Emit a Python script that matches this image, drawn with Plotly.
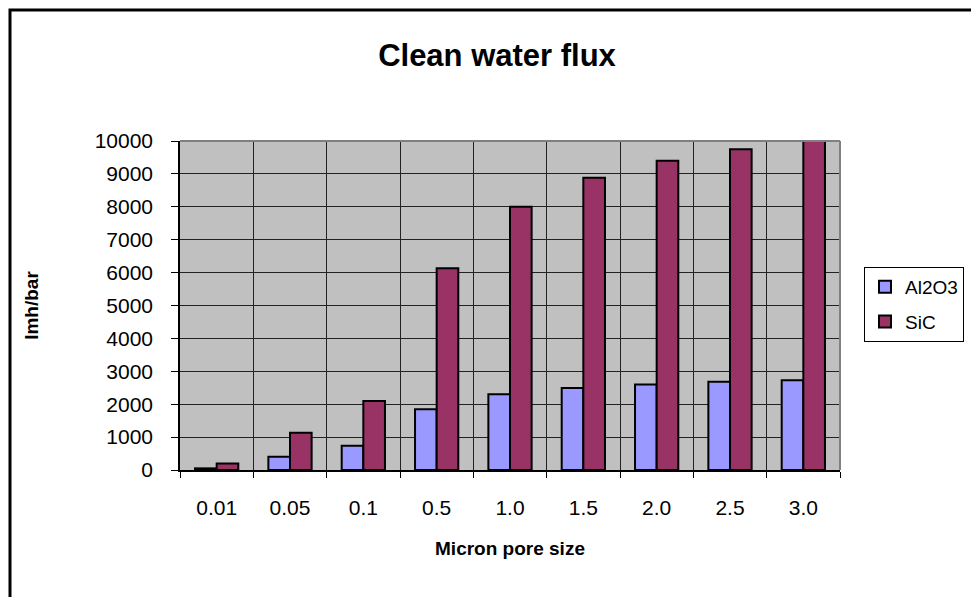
import plotly.graph_objects as go

categories = ["0.01", "0.05", "0.1", "0.5", "1.0", "1.5", "2.0", "2.5", "3.0"]
al2o3 = [50, 400, 740, 1850, 2300, 2490, 2600, 2680, 2730]
sic = [200, 1130, 2100, 6130, 8000, 8880, 9400, 9750, 10000]
y_ticks = [0, 1000, 2000, 3000, 4000, 5000, 6000, 7000, 8000, 9000, 10000]

W, H = 971, 597
L, R, T, B = 180, 840, 141, 470

FONT = "Liberation Sans, Arial, sans-serif"

fig = go.Figure()
fig.add_trace(go.Bar(name="Al2O3", x=categories, y=al2o3, legendgroup="a",
                     marker=dict(color="#9999FF", line=dict(color="black", width=2))))
fig.add_trace(go.Bar(name="SiC", x=categories, y=sic, legendgroup="b",
                     marker=dict(color="#993366", line=dict(color="black", width=2))))

def px_x(p):
    return (p - L) / (R - L)

def px_y(p):
    return (B - p) / (B - T)

shapes = [
    dict(type="rect", xref="paper", yref="paper", x0=px_x(10), x1=px_x(1200),
         y0=px_y(800), y1=px_y(10), line=dict(color="black", width=3), layer="below"),
    dict(type="line", xref="paper", yref="paper", x0=0, x1=1, y0=1, y1=1,
         line=dict(color="#808080", width=2)),
    dict(type="line", xref="paper", yref="paper", x0=1, x1=1, y0=0, y1=1,
         line=dict(color="#808080", width=2)),
]

fig.update_layout(
    width=W, height=H,
    margin=dict(l=L, r=W - R, t=T, b=H - B, pad=0, autoexpand=False),
    paper_bgcolor="white",
    plot_bgcolor="#C0C0C0",
    font=dict(family=FONT, size=21, color="black"),
    title=dict(text="<b>Clean water flux</b>", x=497 / W, xanchor="center",
               y=1 - 55 / H, yanchor="middle", font=dict(size=31, family=FONT)),
    barmode="group",
    bargap=0.41,
    bargroupgap=0,
    showlegend=True,
    legend=dict(x=px_x(864), y=px_y(267), xanchor="left", yanchor="top",
                bordercolor="black", borderwidth=1, bgcolor="white",
                font=dict(size=19, family=FONT), tracegroupgap=7,
                traceorder="grouped"),
    xaxis=dict(
        type="category",
        tickson="boundaries",
        showgrid=True, gridcolor="#222222", gridwidth=1,
        showline=True, linecolor="black", linewidth=1.5,
        ticks="outside", ticklen=6, tickcolor="black",
        ticklabelstandoff=18,
        title=dict(text="<b>Micron pore size</b>", font=dict(size=19, family=FONT), standoff=24),
    ),
    yaxis=dict(
        range=[0, 10000],
        tickvals=y_ticks,
        ticktext=[str(v) for v in y_ticks],
        showgrid=True, gridcolor="#222222", gridwidth=1,
        zeroline=False,
        showline=True, linecolor="black", linewidth=1.5,
        ticks="outside", ticklen=7, tickcolor="black",
        ticklabelstandoff=14,
        title=dict(text="<b>lmh/bar</b>", font=dict(size=19, family=FONT), standoff=51),
    ),
    shapes=shapes,
)

fig.write_html(
    "out.html",
    config={"displayModeBar": False},
    post_script="document.body.style.margin='0';document.body.style.overflow='hidden';",
)
